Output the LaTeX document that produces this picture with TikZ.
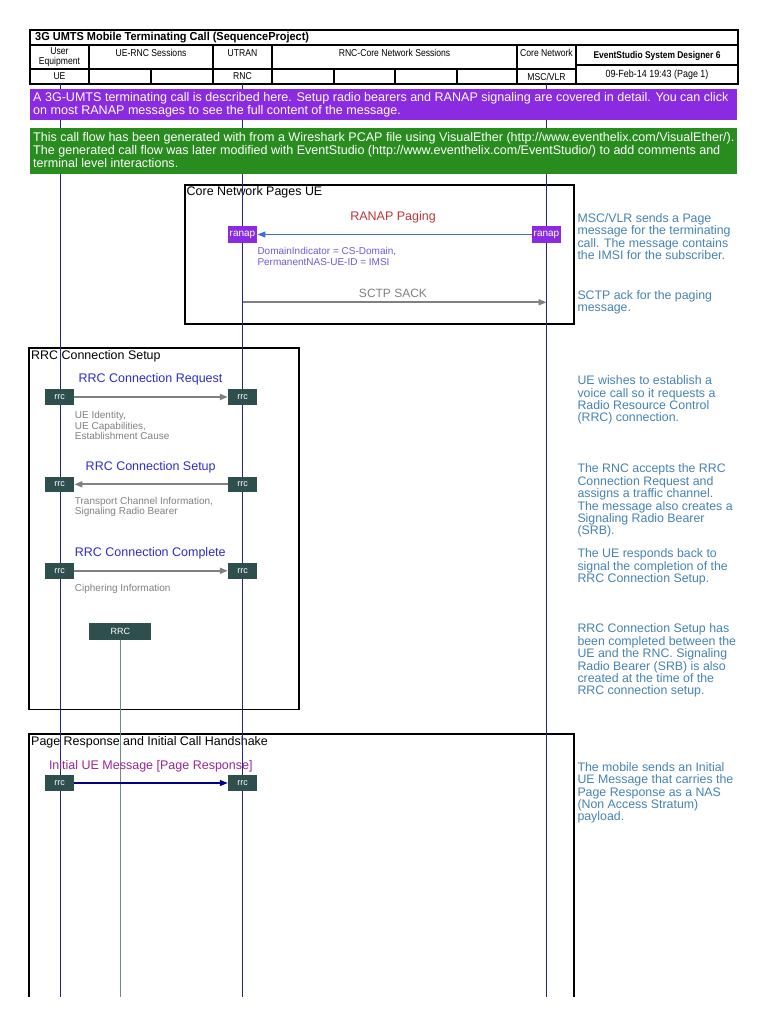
\documentclass[tikz,border=0pt]{standalone}
\usepackage{fontspec}
\setmainfont{Liberation Sans}
\newfontfamily\narrowfont[FakeStretch=0.86]{Liberation Sans}
\newfontfamily\titlefont[FakeStretch=0.945]{Liberation Sans}
\usetikzlibrary{arrows.meta}
\definecolor{lifeblue}{RGB}{35,35,140}
\definecolor{bannerpurple}{RGB}{138,43,226}
\definecolor{bannergreen}{RGB}{40,140,30}
\definecolor{cmtblue}{RGB}{70,130,180}
\definecolor{pagingred}{RGB}{190,55,55}
\definecolor{pagingblue}{RGB}{65,105,225}
\definecolor{paramviolet}{RGB}{110,90,220}
\definecolor{msggrey}{RGB}{128,128,128}
\definecolor{slate}{RGB}{47,79,79}
\definecolor{rrcblue}{RGB}{45,45,205}
\definecolor{initpurple}{RGB}{150,40,150}
\definecolor{navyarrow}{RGB}{0,0,128}
\definecolor{rrcline}{RGB}{115,135,135}
\begin{document}
\begin{tikzpicture}[x=1pt,y=-1pt,
  hdr/.style={draw=black,line width=1.1pt},
  hdrtext/.style={inner sep=0pt,font=\narrowfont\fontsize{10}{9.6}\selectfont,align=center},
  frame/.style={draw=black,line width=1.8pt},
  frametitle/.style={anchor=west,inner sep=0pt,font=\fontsize{12.45}{12.45}\selectfont},
  life/.style={draw=lifeblue,line width=1pt},
  banner/.style={anchor=north west,inner sep=0pt,align=left,text=white,font=\fontsize{12.55}{13}\selectfont},
  comment/.style={anchor=north west,inner sep=0pt,align=left,text=cmtblue,font=\fontsize{12.35}{12.4}\selectfont},
  msgtitle/.style={inner sep=0pt,font=\fontsize{12.5}{12.5}\selectfont},
  params/.style={anchor=north west,inner sep=0pt,align=left,font=\fontsize{10}{10.4}\selectfont},
  ranapbox/.style={fill=bannerpurple,text=white,minimum width=29.5pt,minimum height=16pt,inner sep=0pt,font=\fontsize{10}{10}\selectfont},
  rrcbox/.style={fill=slate,text=white,minimum width=29pt,minimum height=15.5pt,inner sep=0pt,font=\fontsize{9}{9}\selectfont},
  greyarrow/.style={draw=msggrey,line width=1.8pt,-{Triangle[length=8pt,width=6pt]}},
  bluearrow/.style={draw=pagingblue,line width=1pt,-{Triangle[length=8pt,width=6pt]}},
  navyline/.style={draw=navyarrow,line width=1.2pt,-{Triangle[length=8pt,width=6pt]}}
]
\useasboundingbox[fill=white] (0,0) rectangle (768,1024);

% ---------- header table ----------
\draw[hdr] (30,30) rectangle (738,84);
\draw[hdr] (30,45) -- (738,45);
\draw[hdr] (30,69) -- (576,69);
\draw[hdr] (576,65) -- (738,65);
\foreach \x in {89,213,272,517,576} \draw[hdr] (\x,45) -- (\x,84);
\foreach \x in {151,334,395,457} \draw[hdr] (\x,69) -- (\x,84);

\node[anchor=west,inner sep=0pt,font=\titlefont\bfseries\fontsize{11.6}{11.6}\selectfont] (title) at (35,38) {3G UMTS Mobile Terminating Call (SequenceProject)};
\node[hdrtext] (hUE) at (59.5,57) {User\\Equipment};
\node[hdrtext] (hUERNC) at (151,53) {UE-RNC Sessions};
\node[hdrtext] (hUTRAN) at (242.5,53) {UTRAN};
\node[hdrtext] (hRNCCore) at (394.5,53) {RNC-Core Network Sessions};
\node[hdrtext] (hCore) at (546.5,53) {Core Network};
\node[hdrtext,font=\narrowfont\bfseries\fontsize{9.8}{9.8}\selectfont] (hES) at (657,55.5) {EventStudio System Designer 6};
\node[hdrtext,font=\narrowfont\fontsize{10.4}{10.4}\selectfont] (hDate) at (657,74.5) {09-Feb-14 19:43 (Page 1)};
\node[hdrtext] (lUE) at (59.5,76.5) {UE};
\node[hdrtext] (lRNC) at (242.5,76.5) {RNC};
\node[hdrtext] (lMSC) at (546.5,76.5) {MSC/VLR};

% ---------- section frames ----------
\draw[frame] (184.7,184.7) rectangle (574.3,324);
\node[frametitle] (t1) at (186.5,192.7) {Core Network Pages UE};
\draw[frame,line width=1.5pt] (29,348) rectangle (299,709.5);
\node[frametitle] (t2) at (31,356) {RRC Connection Setup};
\draw[frame] (29,997) -- (29,734) -- (574,734) -- (574,997);
\node[frametitle] (t3) at (31,742) {Page Response and Initial Call Handshake};

% ---------- lifelines ----------
\coordinate (ueT) at (60,84);   \coordinate (ueB) at (60,997);
\coordinate (rncT) at (242.5,84); \coordinate (rncB) at (242.5,997);
\coordinate (mscT) at (546.5,84); \coordinate (mscB) at (546.5,997);
\draw[life] (ueT) -- (ueB);
\draw[life] (rncT) -- (rncB);
\draw[life] (mscT) -- (mscB);

% ---------- banners ----------
\fill[bannerpurple] (30,89) rectangle (737,120);
\node[banner] (b1) at (33,92.3) {A 3G-UMTS terminating call is described here. Setup radio bearers and RANAP signaling are covered in detail. You can click\\on most RANAP messages to see the full content of the message.};
\fill[bannergreen] (30,128) rectangle (737,174);
\node[banner] (b2) at (33,132.3) {This call flow has been generated with from a Wireshark PCAP file using VisualEther (http://www.eventhelix.com/VisualEther/).\\The generated call flow was later modified with EventStudio (http://www.eventhelix.com/EventStudio/) to add comments and\\terminal level interactions.};

% ---------- RANAP Paging ----------
\node[msgtitle,text=pagingred] (m1) at (393,217) {RANAP Paging};
\node[ranapbox] (ra1) at (242.5,234.5) {ranap};
\node[ranapbox] (ra2) at (546.5,234.5) {ranap};
\draw[bluearrow] (ra2.west) -- (ra1.east);
\node[params,text=paramviolet] (p1) at (257.3,247.5) {DomainIndicator = CS-Domain,\\PermanentNAS-UE-ID = IMSI};

\node[msgtitle,text=msggrey,font=\fontsize{12}{12}\selectfont] (m2) at (393,293) {SCTP SACK};
\coordinate (s1) at (242.5,302.3);
\coordinate (s2) at (546.5,302.3);
\draw[greyarrow] (s1) -- (s2);

\node[comment] (c1) at (577.3,213.2) {MSC/VLR sends a Page\\message for the terminating\\call. The message contains\\the IMSI for the subscriber.};
\node[comment] (c2) at (577.3,290.2) {SCTP ack for the paging\\message.};

% ---------- RRC Connection Setup ----------
\node[msgtitle,text=rrcblue] (m3) at (150.5,379.3) {RRC Connection Request};
\node[rrcbox] (r1a) at (59.7,397) {rrc};
\node[rrcbox] (r1b) at (242.5,397) {rrc};
\draw[greyarrow] (r1a.east) -- (r1b.west);
\node[params,text=msggrey] (p2) at (74.7,411.5) {UE Identity,\\UE Capabilities,\\Establishment Cause};

\node[msgtitle,text=rrcblue] (m4) at (150.7,467.7) {RRC Connection Setup};
\node[rrcbox] (r2a) at (59.7,484.3) {rrc};
\node[rrcbox] (r2b) at (242.5,484.3) {rrc};
\draw[greyarrow] (r2b.west) -- (r2a.east);
\node[params,text=msggrey] (p3) at (74.7,497) {Transport Channel Information,\\Signaling Radio Bearer};

\node[msgtitle,text=rrcblue] (m5) at (150.3,553.3) {RRC Connection Complete};
\node[rrcbox] (r3a) at (59.7,570.8) {rrc};
\node[rrcbox] (r3b) at (242.5,570.8) {rrc};
\draw[greyarrow] (r3a.east) -- (r3b.west);
\node[params,text=msggrey] (p4) at (74.7,584.3) {Ciphering Information};

\node[rrcbox,minimum width=62pt,minimum height=16.5pt] (rrc) at (120.3,631.5) {RRC};
\coordinate (rrcB) at (120.3,997);
\draw[draw=rrcline,line width=1.5pt] (rrc.south) -- (rrcB);

\node[comment] (c3) at (577.3,375.5) {UE wishes to establish a\\voice call so it requests a\\Radio Resource Control\\(RRC) connection.};
\node[comment] (c4) at (577.3,463.8) {The RNC accepts the RRC\\Connection Request and\\assigns a traffic channel.\\The message also creates a\\Signaling Radio Bearer\\(SRB).};
\node[comment] (c5) at (577.3,548.8) {The UE responds back to\\signal the completion of the\\RRC Connection Setup.};
\node[comment] (c6) at (577.3,623.8) {RRC Connection Setup has\\been completed between the\\UE and the RNC. Signaling\\Radio Bearer (SRB) is also\\created at the time of the\\RRC connection setup.};

% ---------- Page Response ----------
\node[msgtitle,text=initpurple] (m6) at (150.8,766.5) {Initial UE Message [Page Response]};
\node[rrcbox] (r4a) at (59.7,783) {rrc};
\node[rrcbox] (r4b) at (242.5,783) {rrc};
\draw[navyline] (r4a.east) -- (r4b.west);
\node[comment] (c7) at (577.3,762.2) {The mobile sends an Initial\\UE Message that carries the\\Page Response as a NAS\\(Non Access Stratum)\\payload.};
\end{tikzpicture}
\end{document}
